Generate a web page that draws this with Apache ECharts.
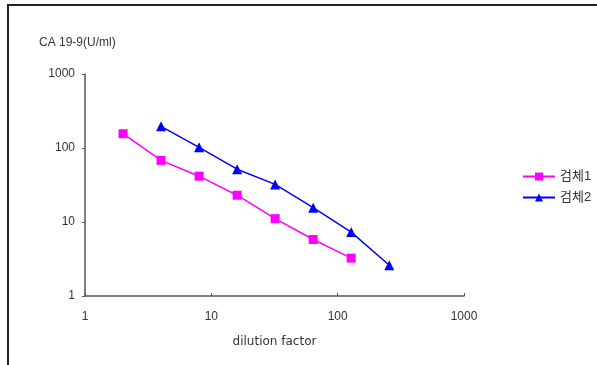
<!DOCTYPE html>
<html><head><meta charset="utf-8">
<script src="https://cdn.jsdelivr.net/npm/echarts@6/dist/echarts.min.js"></script>
<style>html,body{margin:0;padding:0;background:#fff}#c{width:597px;height:365px}</style>
</head><body><div id="c"></div>
<script>
var seriesNames = ['검체1', '검체2'];
var dilution1 = [2, 4, 8, 16, 32, 64, 128];
var values1 = [156, 68, 41.6, 23, 11.1, 5.8, 3.25];
var dilution2 = [4, 8, 16, 32, 64, 128, 256];
var values2 = [196, 102, 51.7, 32.2, 15.6, 7.3, 2.6];
var yTitle = 'CA 19-9(U/ml)';
var xTitle = 'dilution factor';

function pairs(xs, ys){ return xs.map(function(x,i){ return [x, ys[i]]; }); }
function plain(v){ return String(Math.round(v)); }
var font = '"Liberation Sans", "Noto Sans CJK KR", sans-serif';
var chart = echarts.init(document.getElementById('c'), null, {renderer:'canvas'});
chart.setOption({
  animation: false,
  backgroundColor: '#fff',
  textStyle: {fontFamily: font},
  title: {text: yTitle, left: 34, top: 32, textStyle: {fontSize: 12, fontWeight: 'normal', color: '#333', fontFamily: font}},
  grid: {left: 85, right: 133, top: 74, bottom: 69},
  legend: {
    orient: 'vertical', left: 517, top: 165, itemWidth: 32, itemHeight: 10, itemGap: 8,
    textStyle: {fontSize: 13, color: '#333', fontFamily: font},
    data: seriesNames
  },
  xAxis: {
    type: 'log', logBase: 10, min: 1, max: 1000,
    name: xTitle, nameLocation: 'middle', nameGap: 40,
    nameTextStyle: {fontSize: 12, color: '#333', fontFamily: '"DejaVu Sans", sans-serif'},
    axisLine: {lineStyle: {color: '#555', width: 1.5}},
    axisTick: {inside: true, length: 3, lineStyle: {color: '#555'}},
    minorTick: {show: false},
    splitLine: {show: false},
    axisLabel: {color: '#333', fontSize: 12, margin: 15, formatter: plain}
  },
  yAxis: {
    type: 'log', logBase: 10, min: 1, max: 1000,
    axisLine: {show: true, lineStyle: {color: '#555', width: 1.5}},
    axisTick: {show: true, length: 3, lineStyle: {color: '#555'}},
    splitLine: {show: false},
    axisLabel: {color: '#333', fontSize: 12, margin: 10, formatter: plain}
  },
  graphic: [
    {type: 'line', shape: {x1: 7, y1: 5, x2: 597, y2: 5}, style: {stroke: '#222', lineWidth: 2}},
    {type: 'line', shape: {x1: 8, y1: 5, x2: 8, y2: 365}, style: {stroke: '#222', lineWidth: 2}}
  ],
  series: [
    {name: seriesNames[0], type: 'line', data: pairs(dilution1, values1),
     symbol: 'rect', symbolSize: 9, lineStyle: {color: '#FF00FF', width: 1.5},
     itemStyle: {color: '#FF00FF'}},
    {name: seriesNames[1], type: 'line', data: pairs(dilution2, values2),
     symbol: 'triangle', symbolSize: 10, lineStyle: {color: '#0000FF', width: 1.5},
     itemStyle: {color: '#0000FF'}}
  ]
});
</script></body></html>
